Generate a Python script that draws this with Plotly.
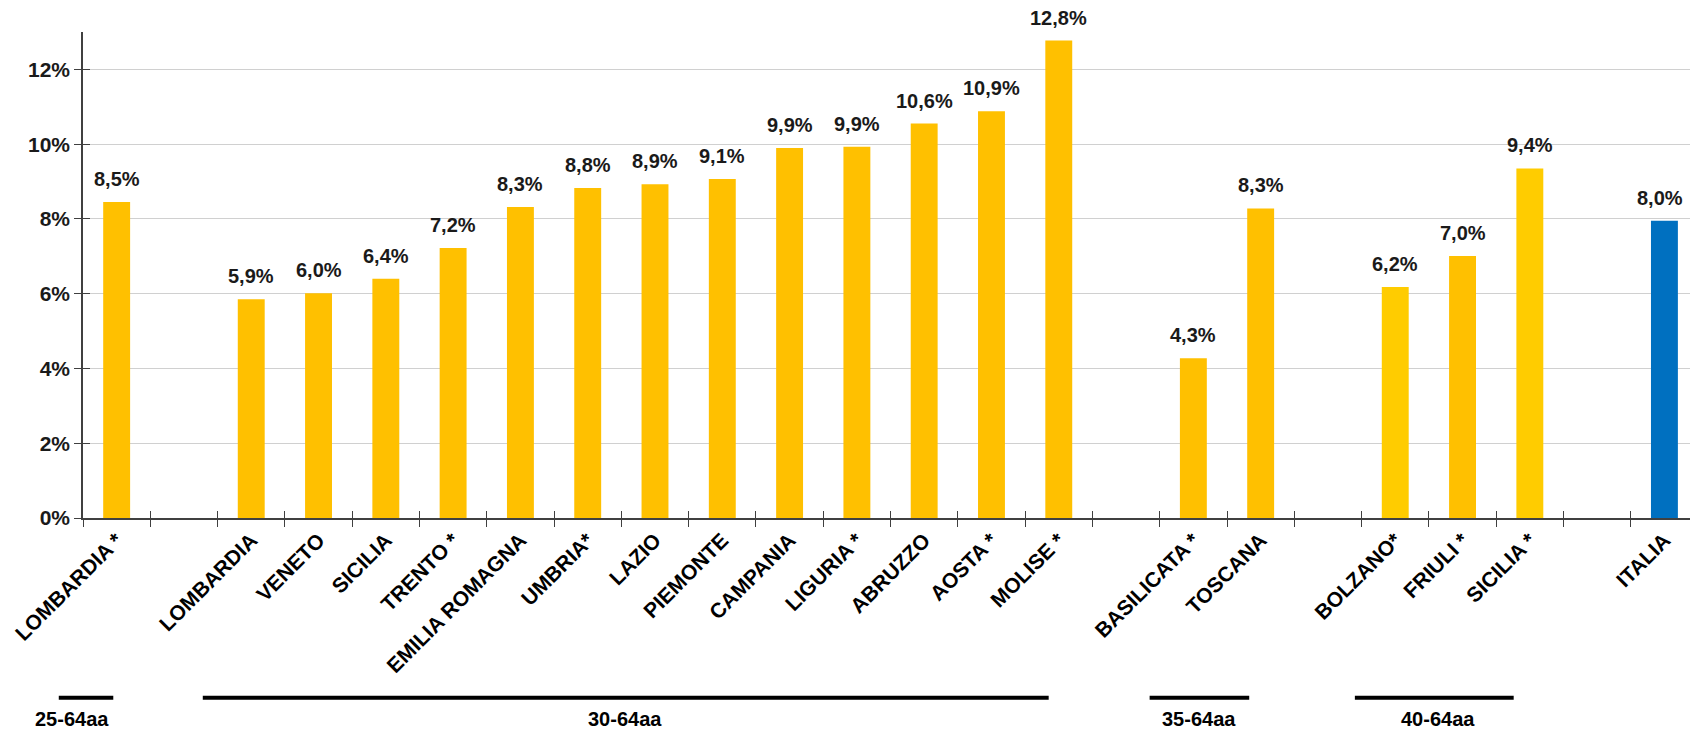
import plotly.graph_objects as go

# ---- data ----
categories = ["LOMBARDIA *", " ", "LOMBARDIA", "VENETO", "SICILIA", "TRENTO *",
              "EMILIA ROMAGNA", "UMBRIA*", "LAZIO", "PIEMONTE", "CAMPANIA",
              "LIGURIA *", "ABRUZZO", "AOSTA *", "MOLISE *", "  ",
              "BASILICATA *", "TOSCANA", "   ", "BOLZANO*", "FRIULI *",
              "SICILIA *", "    ", "ITALIA"]
values = [8.45, None, 5.85, 6.01, 6.40, 7.22, 8.32, 8.83, 8.93, 9.07, 9.90,
          9.93, 10.55, 10.88, 12.77, None, 4.27, 8.28, None, 6.18, 7.01,
          9.35, None, 7.95]
value_labels = ["8,5%", "", "5,9%", "6,0%", "6,4%", "7,2%", "8,3%", "8,8%",
                "8,9%", "9,1%", "9,9%", "9,9%", "10,6%", "10,9%", "12,8%", "",
                "4,3%", "8,3%", "", "6,2%", "7,0%", "9,4%", "", "8,0%"]
y_ticks = [0, 2, 4, 6, 8, 10, 12]
y_tick_text = ["0%", "2%", "4%", "6%", "8%", "10%", "12%"]
age_groups = ["25-64aa", "30-64aa", "35-64aa", "40-64aa"]

# ---- styles ----
YEL = "#FFC000"
YEL2 = "#FFCC00"
BLUE = "#0070C0"
colors = []
for c in categories:
    if c == "ITALIA":
        colors.append(BLUE)
    elif c in ("BOLZANO*", "SICILIA *"):
        colors.append(YEL2)
    else:
        colors.append(YEL)

FONT = "Liberation Sans, Arial, sans-serif"
NARROW = "Liberation Sans Narrow, Arial Narrow, Liberation Sans, Arial, sans-serif"
xrange_ = [-0.5, 23.38]


def to_paper(xv):
    return (xv - xrange_[0]) / (xrange_[1] - xrange_[0])


fig = go.Figure()
fig.add_trace(go.Bar(x=categories, y=values, marker=dict(color=colors, line=dict(width=0)),
                     width=0.4, hoverinfo="skip", showlegend=False))
# invisible helper trace for overlay axes (inside tick halves)
fig.add_trace(go.Scatter(x=categories, y=[0] * len(categories), xaxis="x2", yaxis="y2",
                         mode="markers", marker=dict(opacity=0), hoverinfo="skip",
                         showlegend=False))

# data labels
for c, v, t in zip(categories, values, value_labels):
    if v is None:
        continue
    fig.add_annotation(x=c, y=v, text=t, showarrow=False, yanchor="bottom", xanchor="center",
                       yshift=10, xshift=(-4 if c == "ITALIA" else 0),
                       font=dict(family=FONT, size=20, color="#1a1a1a", weight="bold"))

# age-group brackets below the axis labels (positions in category units)
spans = [(-0.86, -0.05, -0.67), (1.28, 13.85, 7.55), (15.35, 16.83, 16.08), (18.4, 20.76, 19.63)]
for name, (x0, x1, xc) in zip(age_groups, spans):
    fig.add_shape(type="line", xref="paper", yref="paper", x0=to_paper(x0), x1=to_paper(x1),
                  y0=-0.370, y1=-0.370, line=dict(color="black", width=4))
    fig.add_annotation(xref="paper", yref="paper", x=to_paper(xc), y=-0.413, text=name,
                       showarrow=False, xanchor="center", yanchor="middle",
                       font=dict(family=NARROW, size=20, color="black", weight="bold"))

fig.update_layout(
    width=1690, height=729,
    margin=dict(l=83, r=0, t=32, b=211),
    paper_bgcolor="white", plot_bgcolor="white",
    bargap=0.6,
    xaxis=dict(type="category", categoryorder="array", categoryarray=categories,
               range=xrange_, tickson="boundaries", ticks="outside", ticklen=7,
               tickcolor="#404040", tickwidth=1, showline=True, linecolor="#404040",
               linewidth=1.5, tickangle=-45, showgrid=False, zeroline=False, automargin=False,
               tickfont=dict(family=FONT, size=21, color="black", weight="bold")),
    xaxis2=dict(type="category", categoryorder="array", categoryarray=categories,
                range=xrange_, overlaying="x", tickson="boundaries", automargin=False,
                ticks="inside", ticklen=7, tickcolor="#404040", tickwidth=1,
                showticklabels=False, showline=False, showgrid=False, zeroline=False),
    yaxis=dict(range=[0, 13], tickmode="array", tickvals=y_ticks, ticktext=y_tick_text,
               ticks="outside", ticklen=7, automargin=False,
               tickcolor="#404040", showline=True, linecolor="#404040", linewidth=1.5,
               showgrid=True, gridcolor="#D0D0D0", gridwidth=1, zeroline=False,
               tickfont=dict(family=FONT, size=21, color="#1a1a1a", weight="bold")),
    yaxis2=dict(range=[0, 13], tickvals=y_ticks, overlaying="y", ticks="inside", ticklen=7,
                tickcolor="#404040", showticklabels=False, showline=False, showgrid=False,
                zeroline=False, automargin=False),
)

fig.write_html("out.html", config={"displayModeBar": False},
               post_script="document.body.style.margin='0';document.body.style.overflow='hidden';")
